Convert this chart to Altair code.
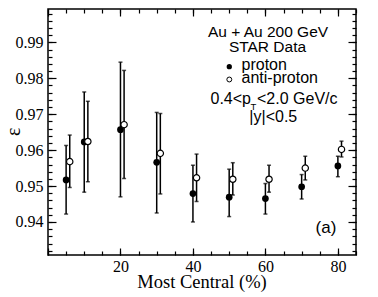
import altair as alt
import pandas as pd

# ---- data ----
cent_p = [5, 10, 20, 30, 40, 50, 60, 70, 80]
eps_p = [0.9517, 0.9623, 0.9657, 0.9566, 0.9479, 0.9469, 0.9465, 0.9498, 0.9556]
lo_p = [0.9422, 0.9483, 0.9470, 0.9425, 0.9400, 0.9415, 0.9422, 0.9464, 0.9526]
hi_p = [0.9613, 0.9762, 0.9845, 0.9705, 0.9558, 0.9547, 0.9507, 0.9532, 0.9583]

cent_ap = [6, 11, 21, 31, 41, 51, 61, 71, 81]
eps_ap = [0.9568, 0.9624, 0.9671, 0.9591, 0.9523, 0.9519, 0.9519, 0.9550, 0.9602]
lo_ap = [0.9496, 0.9512, 0.9521, 0.9478, 0.9457, 0.9475, 0.9483, 0.9517, 0.9581]
hi_ap = [0.9642, 0.9736, 0.9822, 0.9702, 0.9589, 0.9565, 0.9558, 0.9583, 0.9625]

x_major = [0, 20, 40, 60, 80]
x_minor = [0, 5, 10, 15, 20, 25, 30, 35, 40, 45, 50, 55, 60, 65, 70, 75, 80, 85]
y_major = [0.94, 0.95, 0.96, 0.97, 0.98, 0.99]
y_minor = [round(0.932 + 0.002 * i, 3) for i in range(34)]
x_labels = [20, 40, 60, 80]

X_DOM = [0, 85]
Y_DOM = [0.9308, 0.9993]

SERIF = "Liberation Serif"
SANS = "Liberation Sans"

df_p = pd.DataFrame({"x": cent_p, "y": eps_p, "lo": lo_p, "hi": hi_p})
df_ap = pd.DataFrame({"x": cent_ap, "y": eps_ap, "lo": lo_ap, "hi": hi_ap})
df_all = pd.concat([df_p, df_ap], ignore_index=True)

xs = alt.Scale(domain=X_DOM, nice=False, zero=False)
ys = alt.Scale(domain=Y_DOM, nice=False, zero=False)


def tick_layer(xorient, xvals, xlen, yorient, yvals, ylen):
    return alt.Chart(df_all).mark_point(opacity=0).encode(
        x=alt.X("x:Q", scale=xs, axis=alt.Axis(
            orient=xorient, values=xvals, tickSize=xlen, offset=-xlen,
            labels=False, domain=False, grid=False, title=None,
            tickColor="black", tickWidth=1.2)),
        y=alt.Y("y:Q", scale=ys, axis=alt.Axis(
            orient=yorient, values=yvals, tickSize=ylen, offset=-ylen,
            labels=False, domain=False, grid=False, title=None,
            tickColor="black", tickWidth=1.2)),
    )


main_axes = alt.Chart(df_all).mark_point(opacity=0).encode(
    x=alt.X("x:Q", scale=xs, axis=alt.Axis(
        orient="bottom", values=x_labels, ticks=False, tickSize=0, domain=False,
        grid=False, title=None, labelFont=SERIF, labelFontSize=16,
        labelColor="black", labelPadding=3)),
    y=alt.Y("y:Q", scale=ys, axis=alt.Axis(
        orient="left", values=y_major, ticks=False, tickSize=0, domain=False,
        grid=False, title=None, labelFont=SERIF, labelFontSize=16,
        labelColor="black", labelPadding=5, format=".2f")),
)

layers = [
    main_axes,
    tick_layer("bottom", x_major, 7, "left", y_major, 8),
    tick_layer("bottom", x_minor, 4, "left", y_minor, 4),
    tick_layer("top", x_major, 7, "right", y_major, 8),
    tick_layer("top", x_minor, 4, "right", y_minor, 4),
]


def errbars(df):
    bars = alt.Chart(df).mark_rule(color="black", strokeWidth=1.5).encode(
        x=alt.X("x:Q", scale=xs, axis=None),
        y=alt.Y("lo:Q", scale=ys, axis=None),
        y2="hi:Q",
    )
    cap_lo = alt.Chart(df).mark_tick(color="black", orient="horizontal",
                                     size=4, thickness=1.5).encode(
        x=alt.X("x:Q", scale=xs, axis=None),
        y=alt.Y("lo:Q", scale=ys, axis=None),
    )
    cap_hi = alt.Chart(df).mark_tick(color="black", orient="horizontal",
                                     size=4, thickness=1.5).encode(
        x=alt.X("x:Q", scale=xs, axis=None),
        y=alt.Y("hi:Q", scale=ys, axis=None),
    )
    return [bars, cap_lo, cap_hi]


layers += errbars(df_p) + errbars(df_ap)

pts_p = alt.Chart(df_p).mark_point(filled=True, color="black", size=45,
                                   opacity=1).encode(
    x=alt.X("x:Q", scale=xs, axis=None),
    y=alt.Y("y:Q", scale=ys, axis=None),
)
pts_ap = alt.Chart(df_ap).mark_point(filled=True, fill="white", stroke="black",
                                     strokeWidth=1.2, size=40, opacity=1).encode(
    x=alt.X("x:Q", scale=xs, axis=None),
    y=alt.Y("y:Q", scale=ys, axis=None),
)
layers += [pts_p, pts_ap]

one = pd.DataFrame({"a": [0]})


def label(text, px, py, size=16, font=SANS, align="center", angle=0,
          baseline="alphabetic"):
    return alt.Chart(one).mark_text(
        font=font, fontSize=size, align=align, baseline=baseline,
        color="black", angle=angle).encode(
        x=alt.value(px), y=alt.value(py), text=alt.value(text))


layers += [
    label("Au + Au 200 GeV", 220, 27.7, size=15.5),
    label("STAR Data", 219.5, 42.7, size=15.5),
    label("proton", 193.5, 61, align="left"),
    label("anti-proton", 193.5, 73.5, align="left"),
    label("0.4<p", 203, 94.5, align="right"),
    label("T", 202.5, 101, size=9.5, align="left"),
    label("<2.0 GeV/c", 209, 94.5, align="left"),
    label("|y|<0.5", 225.3, 112.5),
    label("(a)", 278, 224, size=17),
    label("ε", -34, 122.7, size=20, font=SERIF, angle=270, baseline="middle"),
    label("Most Central (%)", 154, 278.7, size=18.5, font=SERIF),
    alt.Chart(one).mark_point(filled=True, color="black", size=28, opacity=1).encode(
        x=alt.value(181.3), y=alt.value(57.7)),
    alt.Chart(one).mark_point(filled=True, fill="white", stroke="black",
                              strokeWidth=1, size=24, opacity=1).encode(
        x=alt.value(181.3), y=alt.value(70.5)),
]

chart = alt.layer(*layers).resolve_axis(x="independent", y="independent").properties(
    width=308, height=246,
    padding={"left": 40, "top": 1, "right": 14, "bottom": 40},
    autosize=alt.AutoSizeParams(type="none"),
).configure_view(stroke="black", strokeWidth=1.5).configure_axis(grid=False)

chart.save("out.html", embed_options={"renderer": "svg", "actions": False})
